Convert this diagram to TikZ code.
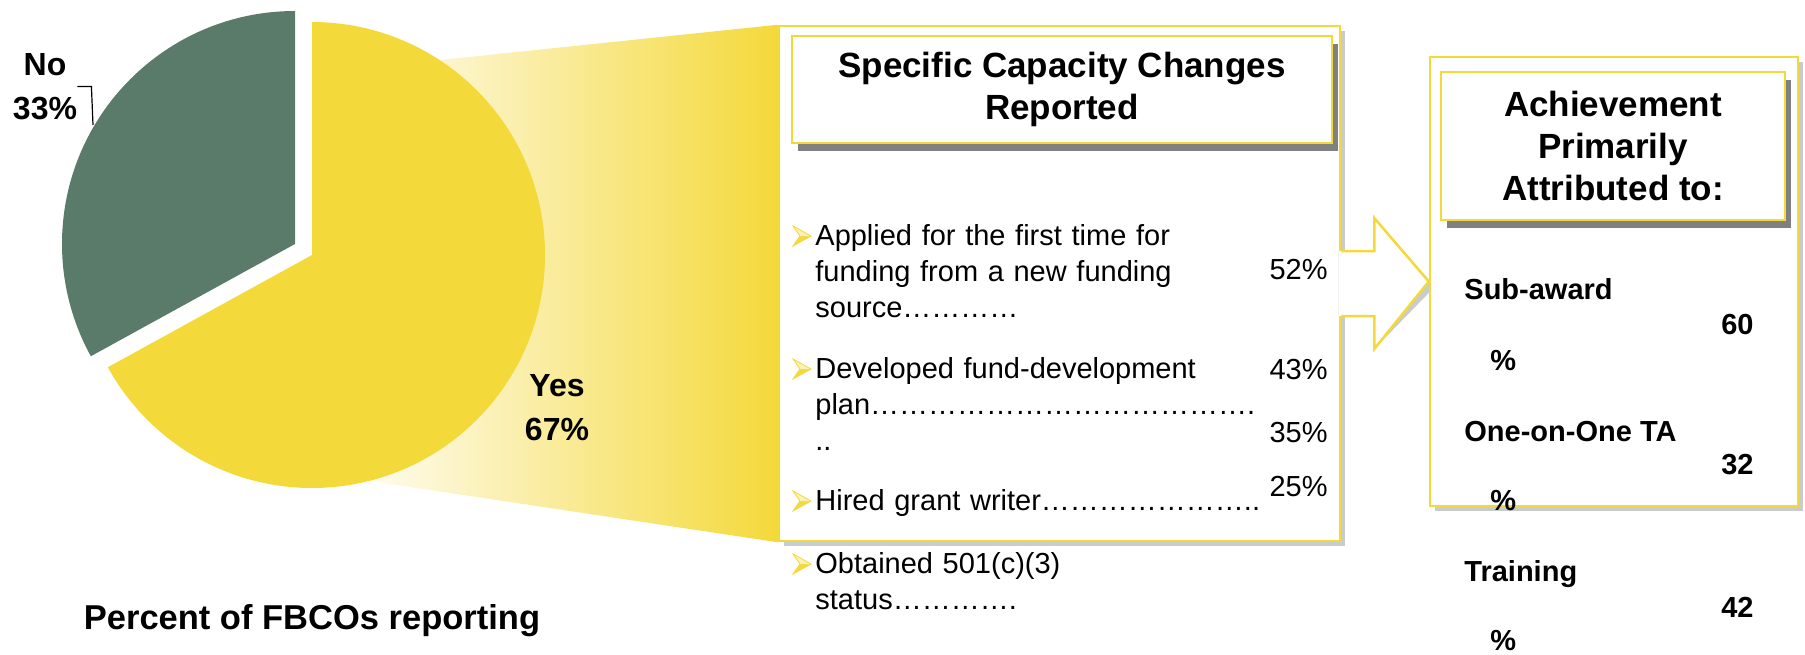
\documentclass[tikz,border=0pt]{standalone}
\usepackage{fontspec}
\setmainfont{Liberation Sans}
\usepackage{xcolor}
\usetikzlibrary{shadows}
\definecolor{pieyellow}{RGB}{244,217,58}
\definecolor{piegreen}{RGB}{90,122,106}
\definecolor{lightshadow}{RGB}{200,204,206}
\definecolor{darkshadow}{RGB}{128,128,128}
\tikzset{
  outer box/.style={
    rectangle, draw=pieyellow, line width=1.25pt, fill=white, inner sep=0pt,
    drop shadow={shadow xshift=2.5pt, shadow yshift=-2.5pt, fill=lightshadow, opacity=1}
  },
  title box/.style={
    rectangle, draw=pieyellow, line width=1.25pt, fill=white, align=center,
    font=\fontsize{17.5}{21}\selectfont\bfseries,
    drop shadow={shadow xshift=3pt, shadow yshift=-4pt, fill=darkshadow, opacity=1}
  },
  pie label/.style={align=center, inner sep=0pt, font=\fontsize{16}{22}\selectfont\bfseries},
  itemtext/.style={anchor=base west, text width=240pt, align=left, inner sep=0pt,
    font=\fontsize{14.5}{18}\selectfont},
  pctval/.style={anchor=base east, inner sep=0pt, font=\fontsize{14.5}{18}\selectfont},
  srcname/.style={anchor=base west, inner sep=0pt, font=\fontsize{14.5}{18}\selectfont\bfseries},
  srcval/.style={anchor=base east, inner sep=0pt, font=\fontsize{14.5}{18}\selectfont\bfseries},
  srcunit/.style={anchor=base west, inner sep=0pt, font=\fontsize{14.5}{18}\selectfont\bfseries},
  block arrow/.style={draw=pieyellow, line width=1.25pt, line join=miter}
}

\begin{document}
\begin{tikzpicture}[x=0.5pt,y=0.5pt]
    \useasboundingbox (0,0) rectangle (1805,-654);
    \node[outer box, minimum width=280.5pt, minimum height=257.5pt] (mid) at (1059.5,-283.5) {};
    \fill[lightshadow, shift={(5,-5)}] ([shift={(-3,32.5)}]mid.east) -- ++(36,0) -- ++(0,33) -- (1430,-281.5) -- ([shift={(33,-65.5)}]mid.east) -- ++(0,33) -- ([shift={(-3,-32.5)}]mid.east) -- cycle;
    \fill[white] ([shift={(-3,32.5)}]mid.east) -- ++(36,0) -- ++(0,33) -- (1430,-281.5) -- ([shift={(33,-65.5)}]mid.east) -- ++(0,33) -- ([shift={(-3,-32.5)}]mid.east) -- cycle;
    \node[outer box, minimum width=184pt, minimum height=224.5pt] (att) at (1614,-281.5) {};
    \draw[block arrow] ([shift={(0,32.5)}]mid.east) -- ++(33,0) -- ++(0,33) -- (att.west) -- ([shift={(33,-65.5)}]mid.east) -- ++(0,33) -- ([shift={(0,-32.5)}]mid.east);
    \shade[left color=white, right color=pieyellow] (330,-71.5) -- (mid.north west) -- (mid.south west) -- (330,-475) -- cycle;
    \fill[pieyellow] (312,-255) -- ++(90:233) arc[start angle=90, end angle=-151.2, radius=233] -- cycle;
    \fill[piegreen] (295,-244) -- ++(90:233) arc[start angle=90, end angle=208.8, radius=233] -- cycle;
    \node[pie label] (no) at (45,-86.5) {No\\33\%};
    \node[pie label] (yes) at (557,-408) {Yes\\67\%};
    \coordinate (noedge) at (93,-125);
    \draw[line width=0.6pt] (no.east) -- ++(14,0) -- (noedge);
    \node[font=\fontsize{17.25}{20}\selectfont\bfseries] (caption) at (312,-621) {Percent of FBCOs reporting};
    \node[title box, minimum width=270pt, minimum height=53.5pt] (spec) at (1062,-89.5) {Specific Capacity Changes\\Reported};
    \node[title box, minimum width=172pt, minimum height=74pt] (achv) at (1613,-146) {Achievement\\Primarily\\Attributed to:};
    \foreach \n/\y in {1/236,2/369,3/501,4/564} {
        \coordinate (b\n) at (802,-\y);
        \fill[pieyellow] (b\n) ++(-9,10) -- ++(18,-10) -- ++(-18,-10) -- ++(7,10) -- cycle;
        \fill[pieyellow!35] (b\n) ++(-9,10) -- ++(18,-10) -- ++(-11,0) -- cycle;
        \draw[pieyellow, line width=0.4pt, line join=miter] (b\n) ++(-9,10) -- ++(18,-10) -- ++(-18,-10) -- ++(7,10) -- cycle;
    }
    \node[itemtext] (i1) at (815,-245) {Applied for the first time for\\funding from a new funding\\source…………};
    \node[itemtext] (i2) at (815,-378) {Developed fund-development\\plan\foreach \k in {1,...,13}{…}.\\..};
    \node[itemtext] (i3) at (815,-510) {Hired grant writer…………………..};
    \node[itemtext] (i4) at (815,-573) {Obtained 501(c)(3)\\status………….};
    \node[pctval] (p1) at (1328,-279) {52\%};
    \node[pctval] (p2) at (1328,-379) {43\%};
    \node[pctval] (p3) at (1328,-442) {35\%};
    \node[pctval] (p4) at (1328,-496) {25\%};
    \node[srcname] (s1) at (1464,-299) {Sub-award};
    \node[srcval] (v1) at (1754,-334) {60};
    \node[srcunit] (u1) at (1490,-370) {\%};
    \node[srcname] (s2) at (1464,-441) {One-on-One TA};
    \node[srcval] (v2) at (1754,-474) {32};
    \node[srcunit] (u2) at (1490,-510) {\%};
    \node[srcname] (s3) at (1464,-581) {Training};
    \node[srcval] (v3) at (1754,-617) {42};
    \node[srcunit] (u3) at (1490,-650) {\%};
\end{tikzpicture}
\end{document}
